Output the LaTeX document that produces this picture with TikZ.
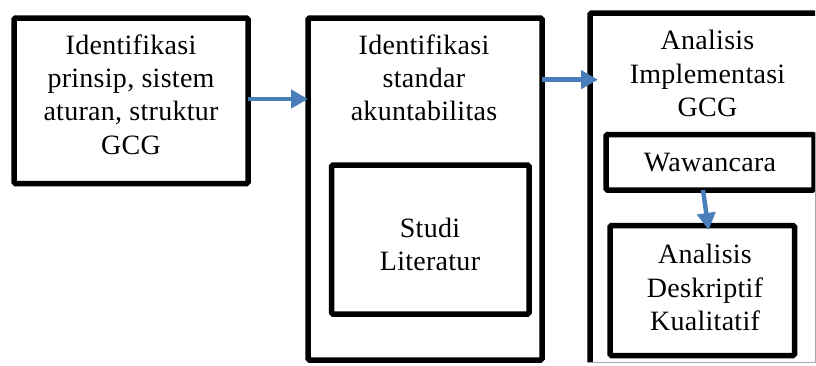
\documentclass[tikz,border=0pt]{standalone}
\usepackage{fontspec}
\setmainfont[LetterSpace=1.0]{Liberation Serif}
\usetikzlibrary{arrows.meta}
\definecolor{arrblue}{HTML}{4A7EBB}
\tikzset{
  box/.style={draw=black, line width=5.5pt, rounded corners=1.5pt, inner sep=0pt, outer sep=0pt, fill=white},
  lbl/.style={align=center, inner sep=0pt, font=\fontsize{28}{33.3}\selectfont},
  arr/.style={draw=arrblue, line width=4.5pt, -{Triangle[length=17pt,width=18pt]}}
}
\begin{document}
\begin{tikzpicture}[x=1pt,y=-1pt]
\useasboundingbox (0,0) rectangle (816,365);
\fill[white] (0,0) rectangle (816,365);
\begin{scope}
\clip (0,0) rectangle (815,362.5);
% box 1
\node[box, minimum width=234pt, minimum height=165.5pt] (b1) at (131,100.75) {};
\node[lbl, anchor=north] (t1) at (131,34.2) {Identifikasi\\prinsip, sistem\\aturan, struktur\\GCG};
% box 2
\node[box, minimum width=234pt, minimum height=342pt] (b2) at (425,189) {};
\node[lbl, anchor=north] (t2) at (424,34.2) {Identifikasi\\standar\\akuntabilitas};
\node[box, minimum width=197.5pt, minimum height=149pt] (s) at (430.25,239.5) {};
\node[lbl, anchor=north] (ts) at (430,217.9) {Studi\\Literatur};
% box 3
\node[box, minimum width=240pt, minimum height=367pt] (b3) at (710,196.5) {};
\node[lbl, anchor=north] (t3) at (707.5,30.2) {Analisis\\Implementasi\\GCG};
\node[box, minimum width=208pt, minimum height=55.5pt] (w) at (710,162.25) {};
\node[lbl] (tw) at (710,162.25) {Wawancara};
\node[box, minimum width=184.5pt, minimum height=130pt] (a) at (702.25,290.5) {};
\node[lbl, anchor=north] (ta) at (705,244.2) {Analisis\\Deskriptif\\Kualitatif};
\end{scope}
\draw[gray!70, line width=0.8pt] (587,362.6) -- (816,362.6);
\draw[gray!70, line width=0.8pt] (815.5,132) -- (815.5,362.6);
% arrows
\draw[arr] ([yshift=1.75pt]b1.east) -- ([yshift=1.75pt]b1.east -| b2.west);
\draw[arr, shorten >=-8pt] ([yshift=-2pt]b2.east |- t2.center) -- ([yshift=-2pt]t2.center -| b3.west);
\draw[arr, shorten >=-4.5pt] ([xshift=-7pt]w.south) -- ([xshift=5.75pt]a.north);
\end{tikzpicture}
\end{document}
